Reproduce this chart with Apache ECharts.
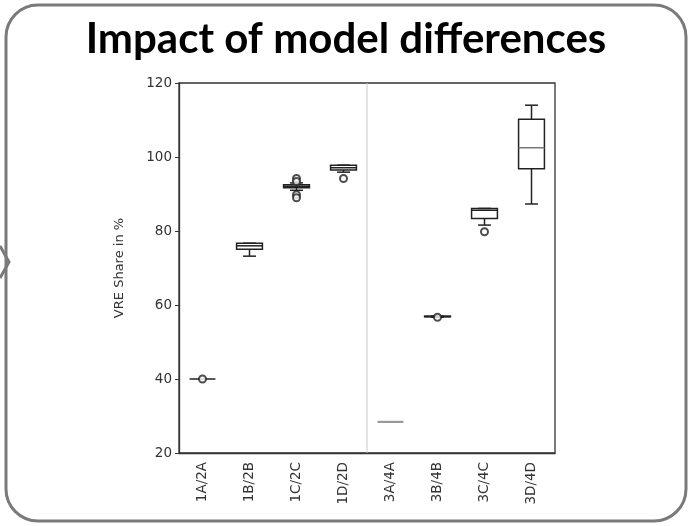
<!DOCTYPE html>
<html><head><meta charset="utf-8">
<script src="https://cdn.jsdelivr.net/npm/echarts@6/dist/echarts.min.js"></script>
<style>html,body{margin:0;padding:0;background:#fff}#c{width:692px;height:526px}</style>
</head><body><div id="c"></div>
<script>
var categories = ['1A/2A','1B/2B','1C/2C','1D/2D','3A/4A','3B/4B','3C/4C','3D/4D'];
// [min, Q1, median, Q3, max]
var boxStats = [
  [40.0, 40.0, 40.0, 40.0, 40.0],
  [73.2, 75.1, 76.0, 76.7, 76.7],
  [91.0, 91.7, 92.1, 92.5, 93.0],
  [95.9, 96.5, 97.1, 97.8, 97.8],
  [28.4, 28.4, 28.4, 28.4, 28.4],
  [56.7, 56.8, 56.9, 57.0, 57.0],
  [81.6, 83.4, 85.6, 86.1, 86.1],
  [87.3, 96.8, 102.5, 110.2, 114.0]
];
var outlierCats = [0, 2, 2, 2, 2, 3, 5, 6];
var outlierVals = [40.0, 94.2, 93.4, 89.8, 89.0, 94.2, 56.7, 79.8];
var yTicks = [20, 40, 60, 80, 100, 120];

var chart = echarts.init(document.getElementById('c'));
var boxData = boxStats.map(function (s, i) { return [i].concat(s); });
var outData = outlierCats.map(function (c, i) { return [c, outlierVals[i]]; });

chart.setOption({
  animation: false,
  title: {
    text: 'Impact of model differences', left: 'center', top: 13,
    textStyle: { fontFamily: 'Lato', fontWeight: 'bold', fontSize: 42, color: '#000' }
  },
  graphic: [
    { type: 'rect', shape: { x: 6, y: 5, width: 680, height: 516, r: 32 },
      style: { fill: 'none', stroke: '#7a7a7a', lineWidth: 3 }, z: -1 },
    { type: 'polyline', shape: { points: [[0, 246], [9, 262], [0, 278]] },
      style: { fill: 'none', stroke: '#7a7a7a', lineWidth: 3 } }
  ],
  grid: { left: 179, right: 137, top: 83, bottom: 73, show: true, borderColor: '#333', borderWidth: 1.3, backgroundColor: 'transparent' },
  xAxis: {
    type: 'category', data: categories, boundaryGap: true,
    axisLine: { lineStyle: { color: '#333', width: 1.3 } },
    axisTick: { alignWithLabel: true, length: 4, lineStyle: { color: '#333' } },
    axisLabel: { rotate: 90, fontSize: 13.5, color: '#333', fontFamily: 'DejaVu Sans', margin: 9 },
    splitLine: { show: false }
  },
  yAxis: {
    type: 'value', min: 20, max: 120, interval: 20,
    name: 'VRE Share in %', nameLocation: 'middle', nameGap: 53,
    nameTextStyle: { fontSize: 13, color: '#333', fontFamily: 'DejaVu Sans' },
    axisLine: { show: true, lineStyle: { color: '#333', width: 1.3 } },
    axisTick: { show: true, length: 4, lineStyle: { color: '#333' } },
    axisLabel: { fontSize: 13.5, color: '#333', fontFamily: 'DejaVu Sans', margin: 7,
      formatter: function (v) { return yTicks.indexOf(v) >= 0 ? String(v) : ''; } },
    splitLine: { show: false }
  },
  series: [
    {
      type: 'custom', data: boxData,
      renderItem: function (params, api) {
        var i = api.value(0);
        var w = api.size([1, 0])[0] * 0.55;
        var cap = w / 2;
        var x = api.coord([i, 0])[0];
        var yMin = api.coord([i, api.value(1)])[1];
        var yQ1 = api.coord([i, api.value(2)])[1];
        var yMed = api.coord([i, api.value(3)])[1];
        var yQ3 = api.coord([i, api.value(4)])[1];
        var yMax = api.coord([i, api.value(5)])[1];
        var stroke = i === 4 ? '#999' : '#222';
        var st = { stroke: stroke, fill: 'none', lineWidth: 1.5 };
        var ch = [];
        if (i === 4) {
          var cs = params.coordSys;
          var xd = (api.coord([3, 0])[0] + api.coord([4, 0])[0]) / 2;
          ch.push({ type: 'line', shape: { x1: xd, y1: cs.y, x2: xd, y2: cs.y + cs.height }, style: { stroke: '#c8c8c8', lineWidth: 1 } });
        }
        if (Math.abs(yQ1 - yQ3) < 0.5 && Math.abs(yMin - yMax) < 0.5) {
          ch.push({ type: 'line', shape: { x1: x - w / 2, y1: yMed, x2: x + w / 2, y2: yMed }, style: { stroke: stroke, lineWidth: i === 4 ? 2.2 : 1.5 } });
        } else {
          ch.push({ type: 'line', shape: { x1: x, y1: yMin, x2: x, y2: yQ1 }, style: st });
          ch.push({ type: 'line', shape: { x1: x, y1: yQ3, x2: x, y2: yMax }, style: st });
          ch.push({ type: 'line', shape: { x1: x - cap / 2, y1: yMin, x2: x + cap / 2, y2: yMin }, style: st });
          ch.push({ type: 'line', shape: { x1: x - cap / 2, y1: yMax, x2: x + cap / 2, y2: yMax }, style: st });
          ch.push({ type: 'rect', shape: { x: x - w / 2, y: yQ3, width: w, height: yQ1 - yQ3 }, style: st });
          ch.push({ type: 'line', shape: { x1: x - w / 2, y1: yMed, x2: x + w / 2, y2: yMed }, style: { stroke: i === 7 ? '#777' : stroke, lineWidth: 1.5 } });
        }
        return { type: 'group', children: ch };
      }
    },
    {
      type: 'scatter', data: outData, symbol: 'emptyCircle', symbolSize: 7,
      itemStyle: { color: '#222', borderColor: '#222', borderWidth: 1.4 }
    }
  ]
});
</script></body></html>
